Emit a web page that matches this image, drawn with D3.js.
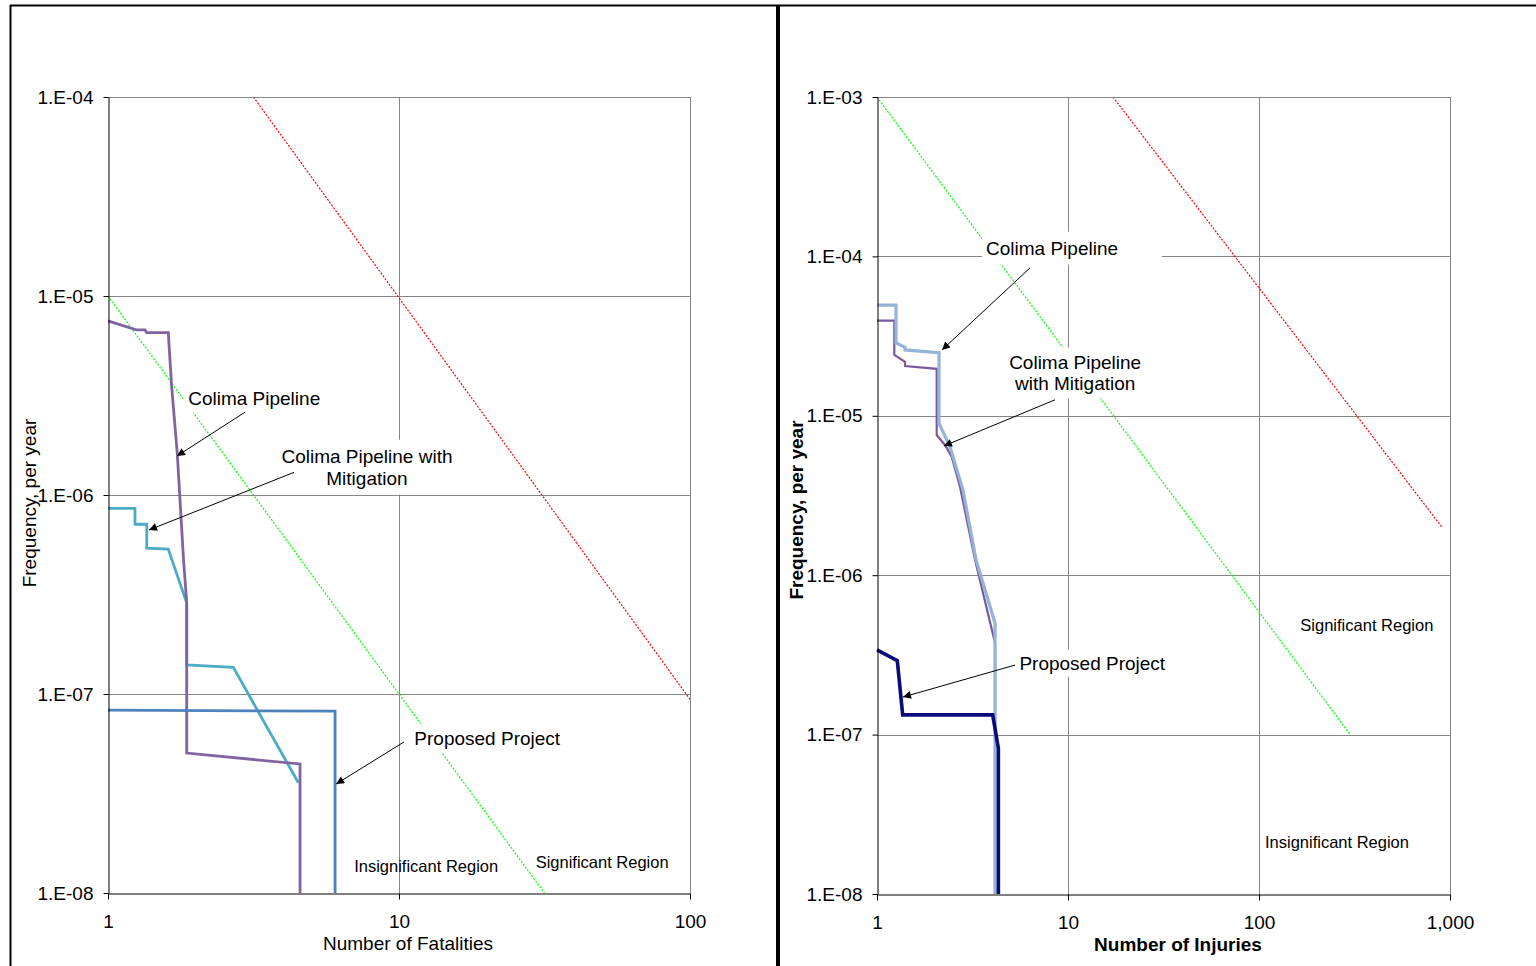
<!DOCTYPE html>
<html>
<head>
<meta charset="utf-8">
<script src="https://cdn.jsdelivr.net/npm/d3@7"></script>
<style>
  body { margin: 0; background: #fff; }
  svg { display: block; font-family: "Liberation Sans", Arial, sans-serif; }
</style>
</head>
<body>
<svg id="chart" width="1536" height="966"></svg>
<script>
// ---- fatalities panel data ----
const fatalXTicks = [1, 10, 100];
const fatalXTickLabels = ['1', '10', '100'];
const fatalYTicks = [1e-4, 1e-5, 1e-6, 1e-7, 1e-8];
const fatalYTickLabels = ['1.E-04', '1.E-05', '1.E-06', '1.E-07', '1.E-08'];

const colimaFatal = [[1.0, 7.5e-6], [1.206, 6.88e-6], [1.255, 6.75e-6], [1.34, 6.75e-6], [1.359, 6.54e-6],
  [1.611, 6.54e-6], [1.655, 3.5e-6], [1.73, 1.62e-6], [1.815, 4.9e-7], [1.864, 2.87e-7],
  [1.864, 5.05e-8], [4.57, 4.45e-8], [4.57, 1e-8]];
const colimaMitFatal = [[1.0, 8.57e-7], [1.238, 8.57e-7], [1.238, 7.13e-7], [1.359, 7.13e-7], [1.359, 5.4e-7],
  [1.611, 5.35e-7], [1.864, 2.87e-7], [1.864, 1.4e-7], [2.696, 1.36e-7], [4.51, 3.58e-8]];
const proposedFatal = [[1.0, 8.3e-8], [6.03, 8.2e-8], [6.03, 1e-8]];
const fatalSignificantLine = [[3.16, 1e-4], [100, 9.4e-8]];
const fatalInsignificantLine = [[1, 1e-5], [31.6, 1e-8]];

// ---- injuries panel data ----
const injXTicks = [1, 10, 100, 1000];
const injXTickLabels = ['1', '10', '100', '1,000'];
const injYTicks = [1e-3, 1e-4, 1e-5, 1e-6, 1e-7, 1e-8];
const injYTickLabels = ['1.E-03', '1.E-04', '1.E-05', '1.E-06', '1.E-07', '1.E-08'];

const colimaInj = [[1.0, 4.95e-5], [1.257, 4.95e-5], [1.257, 2.87e-5], [1.402, 2.69e-5], [1.402, 2.59e-5],
  [2.112, 2.49e-5], [2.112, 8.97e-6], [2.41, 6.4e-6], [2.82, 3.42e-6], [3.3, 1.25e-6],
  [4.15, 5.0e-7], [4.15, 1e-8]];
const colimaMitInj = [[1.0, 3.95e-5], [1.232, 3.95e-5], [1.232, 2.41e-5], [1.402, 2.18e-5], [1.402, 2.05e-5],
  [2.054, 1.97e-5], [2.054, 7.58e-6], [2.27, 6.56e-6], [2.46, 5.54e-6], [2.72, 3.59e-6],
  [3.26, 1.25e-6], [4.15, 3.76e-7], [4.15, 1e-8]];
const proposedInj = [[1.0, 3.4e-7], [1.277, 2.91e-7], [1.363, 1.33e-7], [4.035, 1.33e-7], [4.32, 8.2e-8], [4.32, 1e-8]];
const injSignificantLine = [[17.2, 1e-3], [908, 2e-6]];
const injInsignificantLine = [[1, 1e-3], [300, 1e-7]];

// callouts (positions in data units)
const fatalNotes = [
  { lines: ['Colima Pipeline'], at: [3.18, 3.07e-6], from: [2.96, 2.61e-6], to: [1.726, 1.57e-6], pad: [5, 4] },
  { lines: ['Colima Pipeline with', 'Mitigation'], at: [7.76, 1.57e-6], from: [4.36, 1.3e-6], to: [1.383, 6.67e-7], pad: [12, 6] },
  { lines: ['Proposed Project'], at: [20.1, 6.01e-8], from: [10.4, 5.74e-8], to: [6.08, 3.53e-8], pad: [6, 4] },
];
const fatalRegions = [
  { text: 'Insignificant Region', at: [12.4, 1.37e-8] },
  { text: 'Significant Region', at: [49.9, 1.43e-8] },
];
const injNotes = [
  { lines: ['Colima Pipeline'], at: [8.25, 1.13e-4], from: [6.32, 8.46e-5], to: [2.19, 2.59e-5], pad: [4, 6], padRight: 40 },
  { lines: ['Colima Pipeline', 'with Mitigation'], at: [10.9, 2.18e-5], from: [8.55, 1.26e-5], to: [2.24, 6.47e-6], pad: [8, 4] },
  { lines: ['Proposed Project'], at: [13.4, 2.81e-7], from: [5.28, 2.73e-7], to: [1.368, 1.72e-7], pad: [4, 3] },
];
const injRegions = [
  { text: 'Significant Region', at: [367, 4.87e-7] },
  { text: 'Insignificant Region', at: [256, 2.12e-8] },
];

const FONT = 19;
const svg = d3.select('#chart');

svg.append('defs').append('marker')
  .attr('id', 'arrow')
  .attr('viewBox', '0 0 10 10')
  .attr('refX', 10)
  .attr('refY', 5)
  .attr('markerWidth', 10)
  .attr('markerHeight', 8)
  .attr('markerUnits', 'userSpaceOnUse')
  .attr('orient', 'auto')
  .append('path')
  .attr('d', 'M0,0 L10,5 L0,10 Z')
  .attr('fill', '#000');

// outer frame
svg.append('line').attr('x1', 10.5).attr('y1', 5).attr('x2', 10.5).attr('y2', 966)
  .attr('stroke', '#000').attr('stroke-width', 2);
svg.append('line').attr('x1', 10).attr('y1', 5.5).attr('x2', 1536).attr('y2', 5.5)
  .attr('stroke', '#000').attr('stroke-width', 2);
svg.append('line').attr('x1', 778).attr('y1', 5).attr('x2', 778).attr('y2', 966)
  .attr('stroke', '#000').attr('stroke-width', 4);

function drawPanel(cfg) {
  const g = svg.append('g');
  const x = d3.scaleLog().domain(cfg.xDomain).range(cfg.xRange);
  const y = d3.scaleLog().domain(cfg.yDomain).range(cfg.yRange);
  const [x0, x1] = cfg.xRange;
  const [y0, y1] = cfg.yRange; // bottom, top

  // grid lines
  g.selectAll('line.hgrid')
    .data(cfg.yTicks.filter(d => d !== cfg.yDomain[0]))
    .enter().append('line')
    .attr('x1', x0).attr('x2', x1)
    .attr('y1', d => Math.round(y(d)) + 0.5)
    .attr('y2', d => Math.round(y(d)) + 0.5)
    .attr('stroke', '#868686');
  g.selectAll('line.vgrid')
    .data(cfg.xTicks.filter(d => d !== cfg.xDomain[0]))
    .enter().append('line')
    .attr('y1', y1).attr('y2', y0)
    .attr('x1', d => Math.round(x(d)) + 0.5)
    .attr('x2', d => Math.round(x(d)) + 0.5)
    .attr('stroke', '#868686');

  const line = d3.line().x(d => x(d[0])).y(d => y(d[1]));

  // criterion lines
  g.append('path').datum(cfg.significant)
    .attr('d', line).attr('fill', 'none')
    .attr('stroke', '#ff0000').attr('stroke-width', 1.2).attr('stroke-dasharray', '2,1.5');
  g.append('path').datum(cfg.insignificant)
    .attr('d', line).attr('fill', 'none')
    .attr('stroke', '#00ff00').attr('stroke-width', 1.2).attr('stroke-dasharray', '2,1.5');

  // callout text with white boxes
  cfg.notes.forEach((n) => {
    const t = g.append('text')
      .attr('x', x(n.at[0]))
      .attr('y', y(n.at[1]))
      .attr('text-anchor', 'middle')
      .attr('font-size', FONT)
      .attr('fill', '#000');
    n.lines.forEach((l, i) => {
      t.append('tspan')
        .attr('x', x(n.at[0]))
        .attr('dy', i === 0 ? '0.35em' : '1.15em')
        .text(l);
    });
    const b = t.node().getBBox();
    g.insert('rect', () => t.node())
      .attr('x', b.x - n.pad[0])
      .attr('y', b.y - n.pad[1])
      .attr('width', b.width + (2 * n.pad[0]) + (n.padRight || 0))
      .attr('height', b.height + (2 * n.pad[1]))
      .attr('fill', '#fff');
  });

  // series
  cfg.series.forEach((s) => {
    g.append('path').datum(s.values)
      .attr('d', line)
      .attr('fill', 'none')
      .attr('stroke', s.color)
      .attr('stroke-width', s.width)
      .attr('stroke-linejoin', 'miter');
  });

  // plot border (top / right)
  g.append('line').attr('x1', x0).attr('x2', x1 + 0.5)
    .attr('y1', y1 + 0.5).attr('y2', y1 + 0.5).attr('stroke', '#868686');
  g.append('line').attr('x1', x1 + 0.5).attr('x2', x1 + 0.5)
    .attr('y1', y1).attr('y2', y0).attr('stroke', '#868686');

  // axes
  const yAxis = d3.axisLeft(y)
    .tickValues(cfg.yTicks)
    .tickFormat((d, i) => cfg.yTickLabels[i])
    .tickSize(5).tickPadding(10).tickSizeOuter(0);
  const xAxis = d3.axisBottom(x)
    .tickValues(cfg.xTicks)
    .tickFormat((d, i) => cfg.xTickLabels[i])
    .tickSize(6).tickPadding(15).tickSizeOuter(0);

  const ya = g.append('g').attr('transform', `translate(${x0 + 0.5},0)`).call(yAxis);
  const xa = g.append('g').attr('transform', `translate(0,${y0 + 0.5})`).call(xAxis);
  [ya, xa].forEach((a) => {
    a.selectAll('path.domain').attr('stroke', '#000');
    a.selectAll('.tick line').attr('stroke', '#000');
    a.selectAll('.tick text')
      .attr('font-size', FONT)
      .attr('font-family', '"Liberation Sans", Arial, sans-serif')
      .attr('fill', '#000');
  });

  // arrows
  cfg.notes.forEach((n) => {
    g.append('line')
      .attr('x1', x(n.from[0])).attr('y1', y(n.from[1]))
      .attr('x2', x(n.to[0])).attr('y2', y(n.to[1]))
      .attr('stroke', '#000').attr('stroke-width', 1)
      .attr('marker-end', 'url(#arrow)');
  });

  // region labels
  g.selectAll('text.region')
    .data(cfg.regions)
    .enter().append('text')
    .attr('x', d => x(d.at[0]))
    .attr('y', d => y(d.at[1]))
    .attr('dy', '0.35em')
    .attr('text-anchor', 'middle')
    .attr('font-size', 16.5)
    .attr('fill', '#000')
    .text(d => d.text);

  // axis titles
  g.append('text')
    .attr('x', cfg.xTitlePos[0]).attr('y', cfg.xTitlePos[1])
    .attr('text-anchor', 'middle')
    .attr('font-size', FONT)
    .attr('font-weight', cfg.boldTitles ? 'bold' : 'normal')
    .text(cfg.xTitle);
  g.append('text')
    .attr('transform', `translate(${cfg.yTitlePos[0]},${cfg.yTitlePos[1]}) rotate(-90)`)
    .attr('text-anchor', 'middle')
    .attr('font-size', FONT)
    .attr('font-weight', cfg.boldTitles ? 'bold' : 'normal')
    .text(cfg.yTitle);
}

drawPanel({
  xDomain: [1, 100], xRange: [108, 690],
  yDomain: [1e-8, 1e-4], yRange: [893, 97],
  xTicks: fatalXTicks, xTickLabels: fatalXTickLabels,
  yTicks: fatalYTicks, yTickLabels: fatalYTickLabels,
  significant: fatalSignificantLine, insignificant: fatalInsignificantLine,
  series: [
    { values: colimaMitFatal, color: '#4bacc6', width: 2.8 },
    { values: colimaFatal, color: '#8064a2', width: 2.8 },
    { values: proposedFatal, color: '#4f81bd', width: 2.8 },
  ],
  notes: fatalNotes,
  regions: fatalRegions,
  xTitle: 'Number of Fatalities', xTitlePos: [408, 950],
  yTitle: 'Frequency, per year', yTitlePos: [36, 503],
  boldTitles: false,
});

drawPanel({
  xDomain: [1, 1000], xRange: [877, 1450],
  yDomain: [1e-8, 1e-3], yRange: [894, 97],
  xTicks: injXTicks, xTickLabels: injXTickLabels,
  yTicks: injYTicks, yTickLabels: injYTickLabels,
  significant: injSignificantLine, insignificant: injInsignificantLine,
  series: [
    { values: colimaMitInj, color: '#7a5a9c', width: 2.2 },
    { values: colimaInj, color: '#95b3d7', width: 3.2 },
    { values: proposedInj, color: '#0a0a7a', width: 3.6 },
  ],
  notes: injNotes,
  regions: injRegions,
  xTitle: 'Number of Injuries', xTitlePos: [1178, 951],
  yTitle: 'Frequency, per year', yTitlePos: [803, 510],
  boldTitles: true,
});
</script>
</body>
</html>
